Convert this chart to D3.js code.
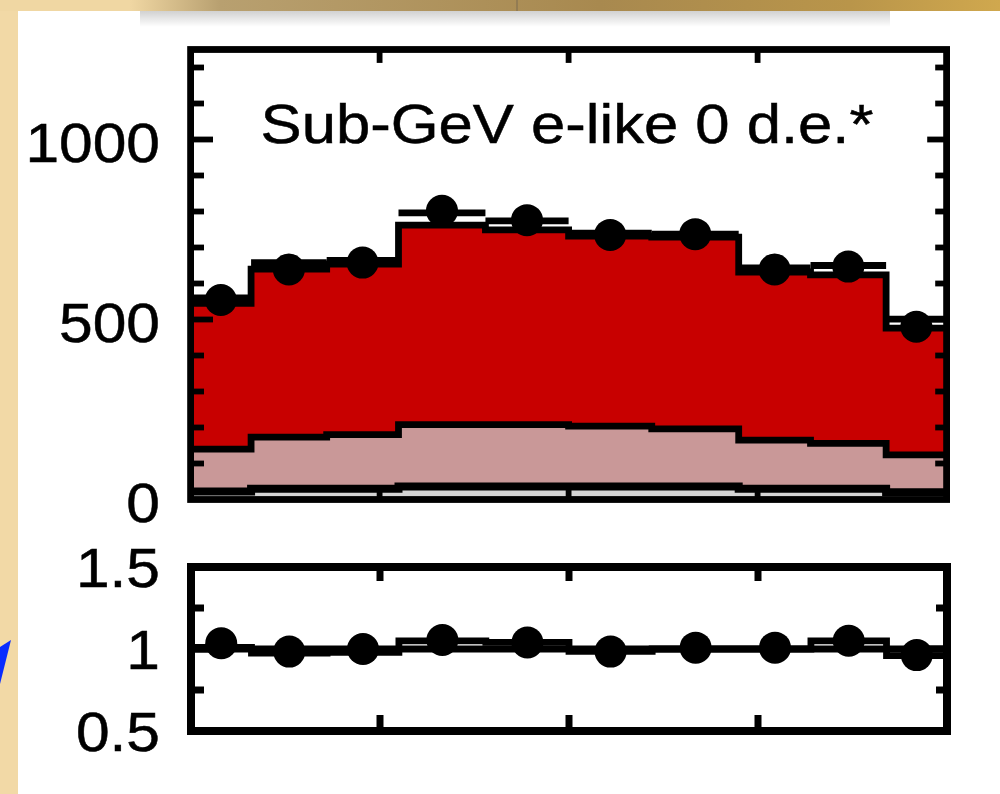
<!DOCTYPE html>
<html><head><meta charset="utf-8">
<script src="https://cdn.jsdelivr.net/npm/d3@7"></script>
<style>html,body{margin:0;padding:0;background:#f2d9a6;} svg{display:block;}</style>
</head><body><svg id="c" width="1000" height="794"></svg>
<script>
// ---- data ----
const binEdges = [-1, -0.84, -0.64, -0.45, -0.22, 0, 0.22, 0.45, 0.64, 0.84, 1];
const dataCounts = [554, 639, 658, 802, 776, 735, 737, 639, 647, 480];
const upperLine = [560, 658, 664, 796, 774, 740, 737, 643, 650, 501];
const totalMC = [545, 640, 654, 762, 749, 732, 729, 632, 624, 476];
const pinkComp = [140, 173, 180, 208, 208, 204, 196, 165, 156, 124];
const bottomComp = [22, 30, 30, 36, 36, 36, 36, 30, 30, 20];
const ratioLine = [1.01, 0.975, 0.98, 1.05, 1.04, 0.985, 1.0, 1.0, 1.05, 0.96];
const ratioData = [1.035, 0.984, 1.0, 1.055, 1.04, 0.984, 1.008, 1.008, 1.05, 0.963];
const yTicksMain = [0, 500, 1000];
const yMinorMain = [100,200,300,400,600,700,800,900,1100,1200];
const yTicksRatio = [0.5, 1, 1.5];
const yMinorRatio = [0.75, 1.25];
const xTicks = [-0.5, 0, 0.5];
const titleText = "Sub-GeV e-like 0 d.e.*";

const svg = d3.select("#c");
const FONT = "'Liberation Sans', Arial, Helvetica, sans-serif";

// ---- background (slide) ----
const defs = svg.append("defs");
const g1 = defs.append("linearGradient").attr("id","topg").attr("x1","0").attr("x2","1").attr("y1","0").attr("y2","0");
g1.append("stop").attr("offset","0").attr("stop-color","#f0d7a3");
g1.append("stop").attr("offset","0.13").attr("stop-color","#f0d7a3");
g1.append("stop").attr("offset","0.22").attr("stop-color","#b8a070");
g1.append("stop").attr("offset","0.6").attr("stop-color","#a8894f");
g1.append("stop").attr("offset","0.85").attr("stop-color","#b9954a");
g1.append("stop").attr("offset","1").attr("stop-color","#d0a84e");
const g2 = defs.append("linearGradient").attr("id","shad").attr("x1","0").attr("x2","0").attr("y1","0").attr("y2","1");
g2.append("stop").attr("offset","0").attr("stop-color","#000").attr("stop-opacity",0.18);
g2.append("stop").attr("offset","1").attr("stop-color","#000").attr("stop-opacity",0);

svg.append("rect").attr("width",1000).attr("height",794).attr("fill","#f2d9a6");
svg.append("rect").attr("x",0).attr("y",0).attr("width",1000).attr("height",11).attr("fill","url(#topg)");
svg.append("line").attr("x1",517).attr("x2",517).attr("y1",0).attr("y2",11).attr("stroke","#7a6a50").attr("stroke-width",1);
svg.append("rect").attr("x",18).attr("y",11).attr("width",982).attr("height",783).attr("fill","#ffffff");
svg.append("rect").attr("x",140).attr("y",11).attr("width",750).attr("height",16).attr("fill","url(#shad)");
svg.append("polygon").attr("points","0,647 11,640 0,684").attr("fill","#0a2cff");

// ---- scales ----
const x = d3.scaleLinear().domain([-1,1]).range([190.6, 946.6]);
const y = d3.scaleLinear().domain([0,1250]).range([499.5, 49.5]);
const x2 = d3.scaleLinear().domain([-1,1]).range([191, 947]);
const y2 = d3.scaleLinear().domain([0.5,1.5]).range([731, 567]);

function stepPts(vals){
  const p = vals.map((v,i)=>[binEdges[i], v]);
  p.push([binEdges[binEdges.length-1], vals[vals.length-1]]);
  return p;
}
const centers = binEdges.slice(0,-1).map((e,i)=>(e+binEdges[i+1])/2);

// ---- main panel ----
defs.append("clipPath").attr("id","clipMain").append("rect")
  .attr("x",x(-1)).attr("y",y(1250)).attr("width",x(1)-x(-1)).attr("height",y(0)-y(1250));
const main = svg.append("g").attr("clip-path","url(#clipMain)");
const area = d3.area().x(d=>x(d[0])).y0(y(0)).y1(d=>y(d[1])).curve(d3.curveStepAfter);
const line = d3.line().x(d=>x(d[0])).y(d=>y(d[1])).curve(d3.curveStepAfter);

main.append("path").attr("d",area(stepPts(totalMC))).attr("fill","#c80000");
main.append("path").attr("d",area(stepPts(pinkComp))).attr("fill","#c99898");
main.append("path").attr("d",area(stepPts(bottomComp))).attr("fill","#d4d4d4");
main.append("path").attr("d",line(stepPts(totalMC))).attr("fill","none").attr("stroke","#000").attr("stroke-width",6.8);
main.append("path").attr("d",line(stepPts(pinkComp))).attr("fill","none").attr("stroke","#000").attr("stroke-width",6.8);
main.append("path").attr("d",line(stepPts(bottomComp))).attr("fill","none").attr("stroke","#000").attr("stroke-width",8);
// horizontal-only segments
main.selectAll("line.up").data(upperLine).enter().append("line")
  .attr("x1",(d,i)=>x(binEdges[i])).attr("x2",(d,i)=>x(binEdges[i+1]))
  .attr("y1",d=>y(d)).attr("y2",d=>y(d)).attr("stroke","#000").attr("stroke-width",6.8);
main.selectAll("circle").data(dataCounts).enter().append("circle")
  .attr("cx",(d,i)=>x(centers[i])).attr("cy",d=>y(d)).attr("r",16).attr("fill","#000");

// frame + ticks
function frameTicks(gp, xsc, ysc, ticksX, majY, minY, lenTop, lenBot, lenL, lenLmaj, lenR, lenRmaj, sw){
  const [x0,x1] = xsc.range(); const [yb,yt] = ysc.range();
  const ins = sw/2;
  const tk = (a,b,c,d)=>gp.append("line").attr("x1",a).attr("x2",b).attr("y1",c).attr("y2",d).attr("stroke","#000").attr("stroke-width",sw-1);
  ticksX.forEach(t=>{ tk(xsc(t),xsc(t),yt,yt+ins+lenTop); tk(xsc(t),xsc(t),yb,yb-ins-lenBot); });
  majY.forEach(t=>{ tk(x0,x0+ins+lenLmaj,ysc(t),ysc(t)); tk(x1,x1-ins-lenRmaj,ysc(t),ysc(t)); });
  minY.forEach(t=>{ tk(x0,x0+ins+lenL,ysc(t),ysc(t)); tk(x1,x1-ins-lenR,ysc(t),ysc(t)); });
  gp.append("rect").attr("x",x0).attr("y",yt).attr("width",x1-x0).attr("height",yb-yt)
    .attr("fill","none").attr("stroke","#000").attr("stroke-width",sw);
}
frameTicks(svg.append("g"), x, y, xTicks, [500,1000], yMinorMain, 10, 10, 10, 19, 8, 16, 6.8);

function label(gp, txt, px, py, anchor, sx){
  gp.append("text").attr("transform",`translate(${px},${py}) scale(${sx},1)`)
    .attr("text-anchor",anchor).attr("font-family",FONT).attr("font-size",56)
    .attr("fill","#000").attr("stroke","#000").attr("stroke-width",0.5).text(txt);
}
const lab = svg.append("g");
yTicksMain.forEach(d=>label(lab, d, 160, y(d)+22, "end", 1.08));
label(lab, titleText, 567, 143, "middle", 1.1);

// ---- ratio panel ----
defs.append("clipPath").attr("id","clipR").append("rect")
  .attr("x",x2(-1)).attr("y",y2(1.5)).attr("width",x2(1)-x2(-1)).attr("height",y2(0.5)-y2(1.5));
const rp = svg.append("g").attr("clip-path","url(#clipR)");
rp.append("line").attr("x1",x2(-1)).attr("x2",x2(1)).attr("y1",y2(1)).attr("y2",y2(1)).attr("stroke","#000").attr("stroke-width",6.8);
const line2 = d3.line().x(d=>x2(d[0])).y(d=>y2(d[1])).curve(d3.curveStepAfter);
rp.append("path").attr("d",line2(stepPts(ratioLine))).attr("fill","none").attr("stroke","#000").attr("stroke-width",6.8);
rp.selectAll("circle").data(ratioData).enter().append("circle")
  .attr("cx",(d,i)=>x2(centers[i])).attr("cy",d=>y2(d)).attr("r",16).attr("fill","#000");
frameTicks(svg.append("g"), x2, y2, xTicks, [1], yMinorRatio, 10, 12, 9, 18, 7, 14, 8);
yTicksRatio.forEach(d=>label(lab, d, 160, y2(d)+20, "end", 1.08));
</script></body></html>
